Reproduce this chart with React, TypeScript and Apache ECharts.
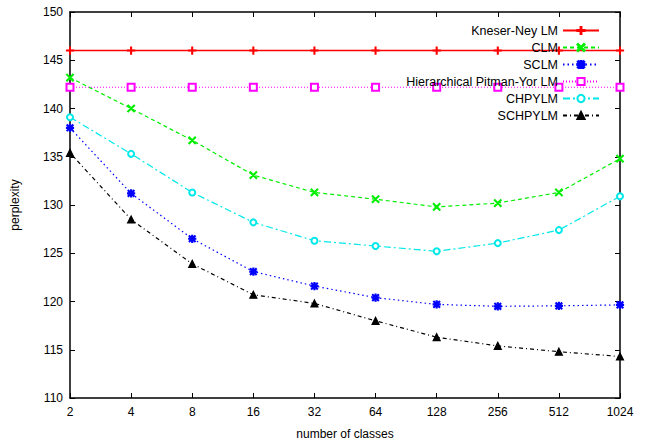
import React, { useEffect, useRef } from "react";
import * as echarts from "echarts";

const classes = ["2", "4", "8", "16", "32", "64", "128", "256", "512", "1024"];
const kneserNey = [146, 146, 146, 146, 146, 146, 146, 146, 146, 146];
const clm = [143.2, 140.0, 136.7, 133.1, 131.3, 130.6, 129.8, 130.2, 131.3, 134.8];
const sclm = [138.0, 131.2, 126.5, 123.1, 121.6, 120.4, 119.7, 119.5, 119.55, 119.65];
const hpylm = [142.2, 142.2, 142.2, 142.2, 142.2, 142.2, 142.2, 142.2, 142.2, 142.2];
const chpylm = [139.1, 135.3, 131.3, 128.2, 126.3, 125.75, 125.2, 126.05, 127.4, 130.9];
const schpylm = [135.4, 128.5, 123.9, 120.7, 119.8, 118.0, 116.3, 115.4, 114.8, 114.3];

const PLUS = "path://M4.4,0h1.2v10h-1.2z M0,4.4h10v1.2h-10z";
const CROSS = "path://M0.9,0L10,9.1L9.1,10L0,0.9Z M9.1,0L10,0.9L0.9,10L0,9.1Z";
const STAR =
  "path://M4.3,0h1.4v10h-1.4z M0,4.3h10v1.4h-10z M1.3,0.4L9.6,8.7L8.7,9.6L0.4,1.3Z M8.7,0.4L9.6,1.3L1.3,9.6L0.4,8.7Z";

export default function App() {
  const ref = useRef<HTMLDivElement>(null);
  useEffect(() => {
    if (!ref.current) return;
    const chart = echarts.init(ref.current, null, { renderer: "svg" });
    const font = "Liberation Sans, Arial, sans-serif";
    const mk = (
      name: string,
      data: number[],
      color: string,
      symbol: string,
      size: number,
      type: any,
      width = 1.2
    ) => ({
      name,
      type: "line",
      data,
      color,
      symbol,
      symbolSize: size,
      showAllSymbol: true,
      lineStyle: { color, width, type },
      itemStyle: { color, borderColor: color, borderWidth: 1.2 },
      emphasis: { disabled: true },
      z: 3,
    });
    chart.setOption({
      animation: false,
      backgroundColor: "#fff",
      textStyle: { fontFamily: font },
      grid: { left: 70, right: 37, top: 12, bottom: 38, containLabel: false },
      legend: {
        orient: "vertical",
        right: 52,
        top: 19,
        align: "right",
        itemWidth: 36,
        itemHeight: 9,
        itemGap: 4,
        textStyle: { fontSize: 12.5, color: "#000", fontFamily: font },
        data: ["Kneser-Ney LM", "CLM", "SCLM", "Hierarchical Pitman-Yor LM", "CHPYLM", "SCHPYLM"],
      },
      xAxis: [
        {
          type: "category",
          data: classes,
          boundaryGap: false,
          name: "number of classes",
          nameLocation: "middle",
          nameGap: 30,
          nameTextStyle: { fontSize: 12, color: "#000" },
          axisLine: { lineStyle: { color: "#000", width: 1.5 } },
          axisTick: { inside: true, length: 5, lineStyle: { color: "#000" } },
          axisLabel: { fontSize: 12, color: "#000", margin: 8 },
          splitLine: { show: false },
        },
        {
          type: "category",
          data: classes,
          boundaryGap: false,
          position: "top",
          axisLine: { lineStyle: { color: "#000", width: 1.5 } },
          axisTick: { inside: true, length: 5, lineStyle: { color: "#000" } },
          axisLabel: { show: false },
          splitLine: { show: false },
        },
      ],
      yAxis: [
        {
          type: "value",
          min: 110,
          max: 150,
          interval: 5,
          name: "perplexity",
          nameLocation: "middle",
          nameGap: 49,
          nameTextStyle: { fontSize: 12, color: "#000" },
          axisLine: { show: true, lineStyle: { color: "#000", width: 1.5 } },
          axisTick: { show: true, inside: true, length: 5, lineStyle: { color: "#000" } },
          axisLabel: { fontSize: 12, color: "#000", margin: 7 },
          splitLine: { show: false },
        },
        {
          type: "value",
          min: 110,
          max: 150,
          interval: 5,
          position: "right",
          axisLine: { show: true, lineStyle: { color: "#000", width: 1.5 } },
          axisTick: { show: true, inside: true, length: 5, lineStyle: { color: "#000" } },
          axisLabel: { show: false },
          splitLine: { show: false },
        },
      ],
      series: [
        mk("Kneser-Ney LM", kneserNey, "#ff0000", PLUS, 7, "solid", 1.5),
        mk("CLM", clm, "#00ee00", CROSS, 7, [4, 3]),
        mk("SCLM", sclm, "#0000ff", STAR, 7, [1.5, 3]),
        {
          ...mk("Hierarchical Pitman-Yor LM", hpylm, "#ff00ff", "emptyRect", 7, [1, 2]),
          itemStyle: { color: "#ff00ff", borderColor: "#ff00ff", borderWidth: 1.5 },
        },
        {
          ...mk("CHPYLM", chpylm, "#00e8e8", "emptyCircle", 6, [7, 3, 2, 3]),
          itemStyle: { color: "#00e8e8", borderColor: "#00e8e8", borderWidth: 1.3 },
        },
        mk("SCHPYLM", schpylm, "#000000", "triangle", 7, [4, 3, 1, 3]),
      ],
    });
    return () => chart.dispose();
  }, []);
  return (
    <div
      ref={ref}
      style={{ position: "fixed", left: 0, top: 0, width: 657, height: 445 }}
    />
  );
}
